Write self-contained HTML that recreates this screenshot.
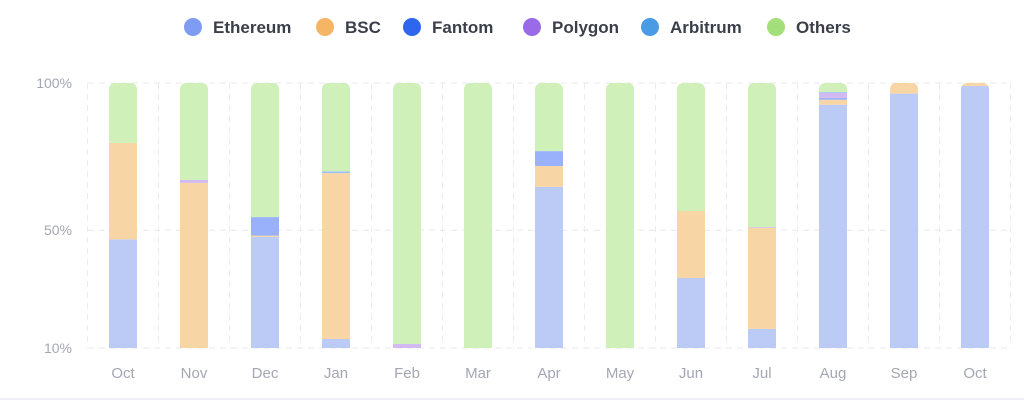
<!DOCTYPE html>
<html><head><meta charset="utf-8"><style>
body{margin:0;background:#fff;width:1024px;height:404px;overflow:hidden;font-family:"Liberation Sans",sans-serif}
</style></head><body>
<svg id="chart" width="1024" height="404" xmlns="http://www.w3.org/2000/svg">
<line x1="0" y1="399" x2="1024" y2="399" stroke="#eef0f3" stroke-width="2"/>
<g id="legend"></g>
<g id="grid"></g>
<g id="bars"></g>
<g id="labels"></g>
</svg>
<script>
const categories=["Oct","Nov","Dec","Jan","Feb","Mar","Apr","May","Jun","Jul","Aug","Sep","Oct"];
const seriesNames=["Ethereum","BSC","Fantom","Polygon","Arbitrum","Others"];
const ethereum=[41,0,41.9,3.4,0,0,60.8,0,26.4,7.2,91.8,96,98.9];
const bsc=[36.4,62.3,0.5,62.6,0,0,7.9,0,25.3,38.1,1.9,4,1.1];
const fantom=[0,0,7,0,0,0,5.6,0,0,0,0.7,0,0];
const polygon=[0,1.1,0,0,1.5,0,0,0,0,0.3,1.9,0,0];
const arbitrum=[0,0,0,0.7,0,0,0,0,0,0,0.3,0,0];
const others=[22.6,36.6,50.6,33.3,98.5,100,25.7,100,48.3,54.4,3.4,0,0];
const yTicks=[10,50,100];
const yTickLabels=["10%","50%","100%"];
const series=[ethereum,bsc,fantom,polygon,arbitrum,others];
const fills=["#bccbf5","#f7d5a4","#98b1fa","#d3b9f1","#9fc3f0","#cff1b9"];
const dots=["#7f9cf3","#f5b565","#2f66ee","#9a6be6","#4a9be6","#a3df7a"];
const NS="http://www.w3.org/2000/svg";
function el(t,a,p){const e=document.createElementNS(NS,t);for(const k in a)e.setAttribute(k,a[k]);p.appendChild(e);return e;}
const yTop=83,yBot=348;
function yAxis(v){return yBot-(v-10)/90*(yBot-yTop);}
function yStack(pct){return yAxis(10+pct*0.9);}
function xAxis(i){return 123+i*71;}
const bw=28;
const grid=document.getElementById('grid');
yTicks.forEach((v,i)=>{
 const l=el('line',{x1:88,x2:1012,y1:yAxis(v),y2:yAxis(v),stroke:"#e8e9ec","stroke-dasharray":"6 5"},grid);
 
 
 const t=el('text',{x:72,y:yAxis(v)+5,"text-anchor":"end","font-size":"14",fill:"#a3a7b2"},document.getElementById('labels'));
 t.textContent=yTickLabels[i];
 
 
});
for(let i=0;i<=categories.length;i++){
 const x=xAxis(i)-35.5;
 const l=el('line',{x1:x,x2:x,y1:yTop,y2:yBot,stroke:"#ececef","stroke-dasharray":"6 5"},grid);
 
 
}
const bars=document.getElementById('bars');
categories.forEach((c,i)=>{
 const g=el('g',{},bars);
 
 
 const cid='clip'+i;
 const cp=el('clipPath',{id:cid},g);
 let total=0;series.forEach(s=>total+=s[i]);
 el('rect',{x:xAxis(i)-bw/2,y:yStack(total),width:bw,height:yStack(0)-yStack(total)+10,rx:6},cp);
 const inner=el('g',{"clip-path":"url(#"+cid+")"},g);
 let cum=0;
 series.forEach((s,k)=>{
  if(s[i]<=0)return;
  const y1=yStack(cum+s[i]),y0=yStack(cum);
  const r=el('rect',{x:xAxis(i)-bw/2,y:y1,width:bw,height:y0-y1,fill:fills[k]},inner);
  
  
  cum+=s[i];
 });
 const t=el('text',{x:xAxis(i),y:378,"text-anchor":"middle","font-size":"15",fill:"#a3a7b2"},document.getElementById('labels'));
 t.textContent=c;
 
 
});
const legX=[193,325,412,532,650,776];
const legend=document.getElementById('legend');
seriesNames.forEach((n,k)=>{
 const g=el('g',{},legend);
 
 
 el('circle',{cx:legX[k],cy:27,r:9,fill:dots[k]},g);
 const t=el('text',{x:legX[k]+20,y:33,"font-size":"17","font-weight":"bold",fill:"#3b3f4a"},g);
 t.textContent=n;
});
</script>
</body></html>
